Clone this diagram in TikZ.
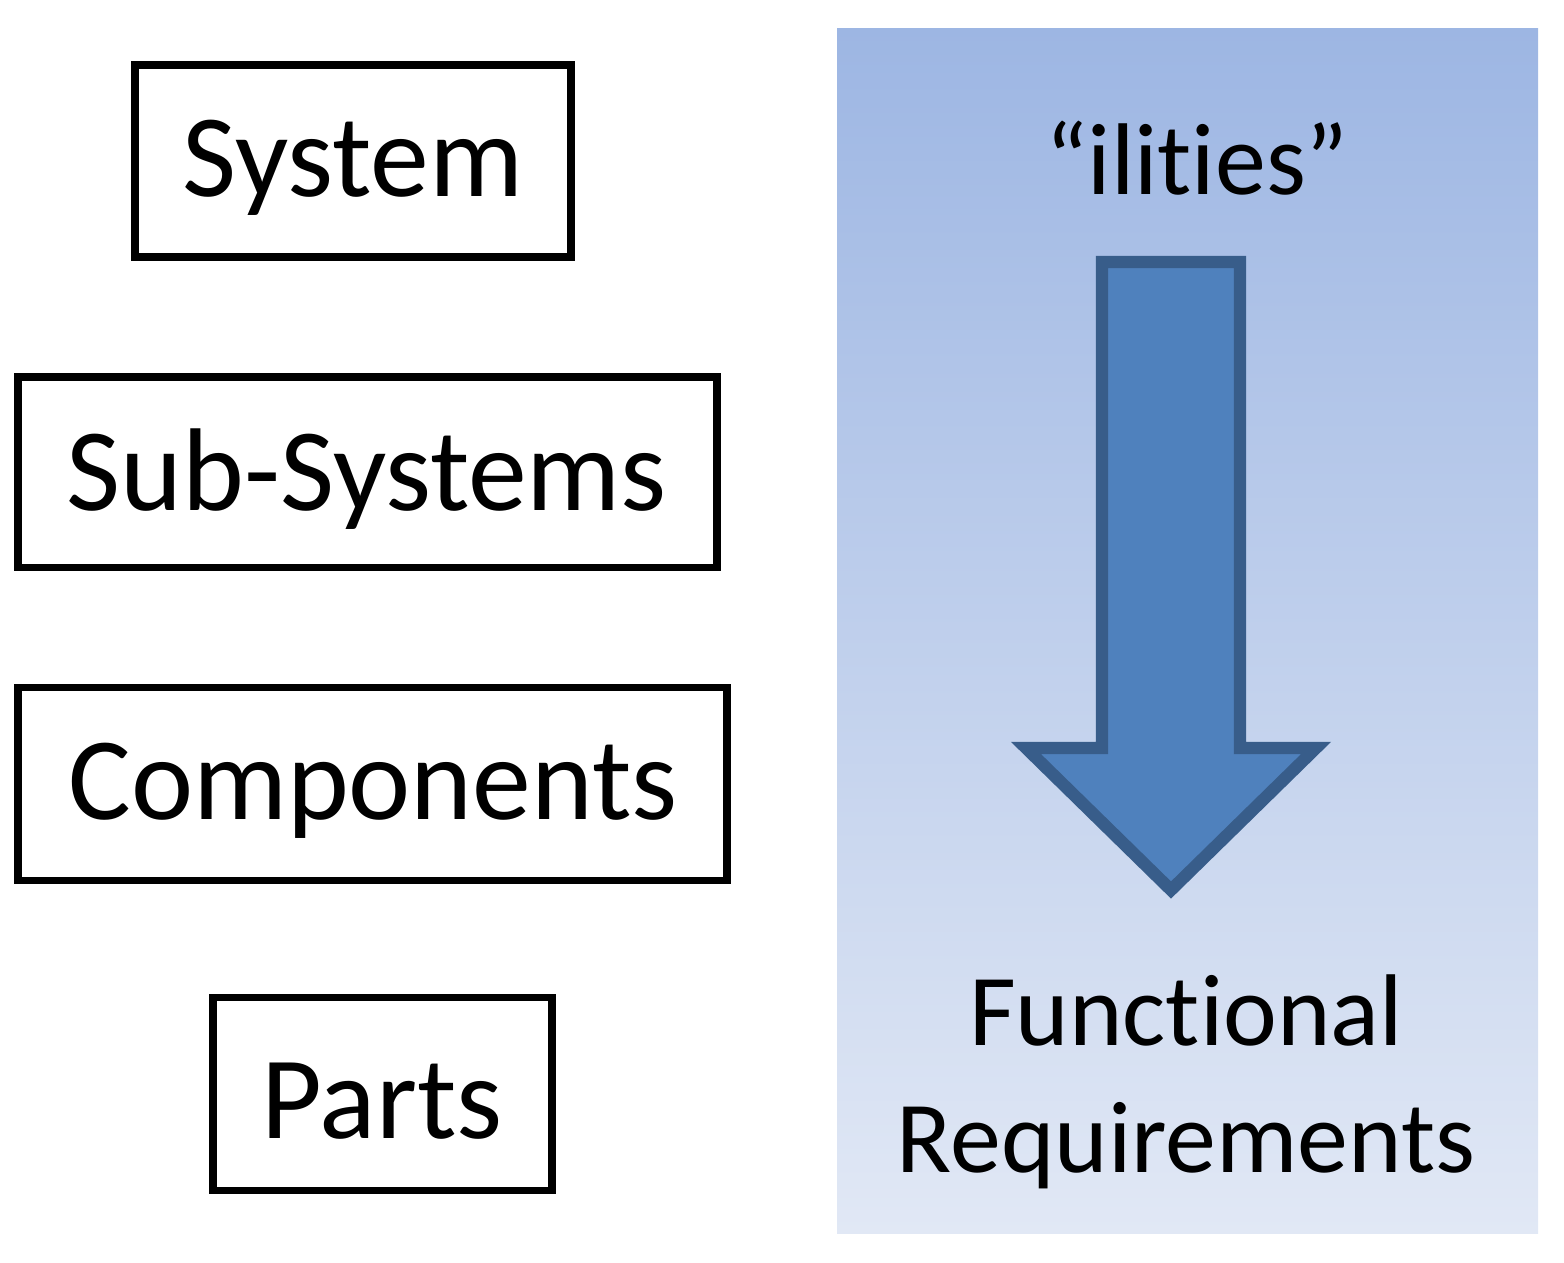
\documentclass[tikz,border=0pt]{standalone}
\usepackage{fontspec}
\setmainfont{Carlito}[Ligatures=NoCommon]
\begin{document}
\begin{tikzpicture}[x=0.02cm,y=-0.02cm,
  lvl/.style={draw=black,line width=4pt,inner sep=0pt},
  big/.style={font=\fontsize{67}{78}\selectfont,inner sep=0pt},
  rt/.style={font=\fontsize{58}{72}\selectfont,inner sep=0pt}]
\useasboundingbox (0,0) rectangle (1564,1262);
\definecolor{topb}{HTML}{9DB6E3}
\definecolor{botb}{HTML}{E1E8F5}
\definecolor{arrf}{HTML}{4F81BD}
\definecolor{arrd}{HTML}{385D8A}
\shade[top color=topb,bottom color=botb] (837,28) rectangle (1538,1233);
\draw[lvl] (135,65) rectangle (571,257);
\node[big] (sys) at (353,168) {System};
\draw[lvl] (18,377) rectangle (717,567);
\node[big] (sub) at (367,479) {Sub-Systems};
\draw[lvl] (18,687) rectangle (727,880);
\node[big] (comp) at (373,791) {Components};
\draw[lvl] (213,997) rectangle (552,1190);
\node[big] (parts) at (382,1101) {Parts};
\node[rt] (il) at (1197,158) {“ilities”};
\draw[fill=arrf,draw=arrd,line width=7pt,line join=miter]
 (1102,262) -- (1240,262) -- (1240,748) -- (1316,748) -- (1171,890) -- (1026,748) -- (1102,748) -- cycle;
\node[rt,align=center] (fr) at (1186,1082) {Functional\\Requirements};
\end{tikzpicture}
\end{document}
